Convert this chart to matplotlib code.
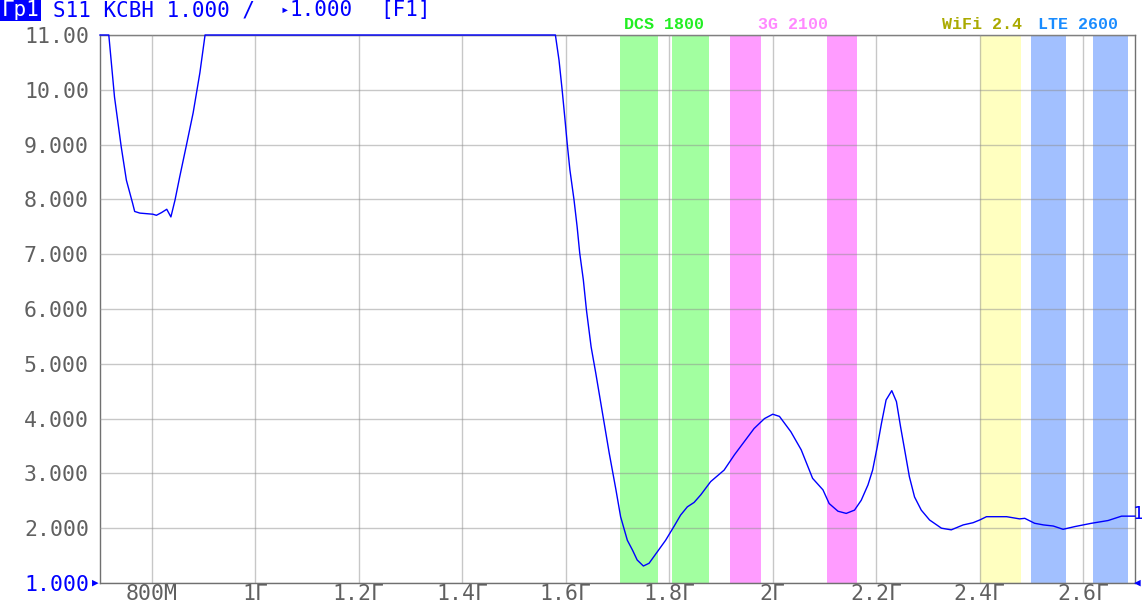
import numpy as np
import matplotlib
matplotlib.use("Agg")
import matplotlib.pyplot as plt
from matplotlib.patches import Rectangle
from matplotlib.transforms import blended_transform_factory

W, H = 1142, 606
MONO = ["DejaVu Sans Mono", "DejaVu Sans"]

# S11 VSWR trace (GHz, VSWR) -- values above 11 are shown clamped to the top edge
freq = [0.700, 0.717, 0.728, 0.741, 0.751, 0.763, 0.767, 0.777, 0.802, 0.809,
        0.819, 0.829, 0.837, 0.845, 0.854, 0.867, 0.880, 0.893, 0.903,
        1.580, 1.587, 1.593, 1.598, 1.603, 1.608, 1.616, 1.622, 1.627, 1.634,
        1.640, 1.649, 1.658, 1.671, 1.684, 1.697, 1.706, 1.719, 1.729, 1.738,
        1.750, 1.761, 1.777, 1.793, 1.809, 1.822, 1.835, 1.848, 1.861, 1.880,
        1.906, 1.926, 1.945, 1.964, 1.984, 2.000, 2.013, 2.035, 2.055, 2.077,
        2.097, 2.109, 2.126, 2.142, 2.158, 2.171, 2.184, 2.193, 2.202, 2.210,
        2.219, 2.230, 2.239, 2.247, 2.256, 2.264, 2.274, 2.287, 2.303, 2.326,
        2.345, 2.368, 2.387, 2.400, 2.413, 2.452, 2.477, 2.487, 2.506, 2.523,
        2.542, 2.561, 2.584, 2.616, 2.648, 2.674, 2.700]
vswr = [11.0, 11.0, 9.87, 8.96, 8.35, 7.93, 7.78, 7.75, 7.73, 7.71,
        7.76, 7.82, 7.68, 7.99, 8.41, 8.99, 9.58, 10.31, 11.0,
        11.0, 10.54, 10.00, 9.51, 9.00, 8.54, 7.99, 7.50, 7.02, 6.53,
        5.98, 5.31, 4.83, 4.10, 3.37, 2.70, 2.21, 1.78, 1.60, 1.42,
        1.31, 1.36, 1.57, 1.78, 2.03, 2.24, 2.39, 2.47, 2.61, 2.85,
        3.06, 3.34, 3.58, 3.82, 4.00, 4.08, 4.04, 3.76, 3.43, 2.91,
        2.70, 2.45, 2.31, 2.27, 2.33, 2.51, 2.79, 3.06, 3.49, 3.91,
        4.34, 4.51, 4.31, 3.85, 3.37, 2.94, 2.57, 2.33, 2.15, 2.00,
        1.97, 2.06, 2.10, 2.15, 2.21, 2.21, 2.17, 2.18, 2.09, 2.06,
        2.04, 1.98, 2.03, 2.09, 2.14, 2.22, 2.22]

# frequency bands (GHz), as drawn
band_lo = [1.705, 1.805, 1.917, 2.105, 2.400, 2.499, 2.618]
band_hi = [1.779, 1.876, 1.977, 2.162, 2.479, 2.566, 2.686]
band_col = ["#a2ffa0", "#a2ffa0", "#ff9cff", "#ff9cff", "#ffffc0", "#a2c0ff", "#a2c0ff"]

band_names = ["DCS 1800", "3G 2100", "WiFi 2.4", "LTE 2600"]
band_name_x = [1.789, 2.039, 2.405, 2.589]
band_name_col = ["#22ee22", "#ff88ff", "#aaaa00", "#1a8cff"]

xticks = [0.8, 1.0, 1.2, 1.4, 1.6, 1.8, 2.0, 2.2, 2.4, 2.6]
xlabels = ["800M", "1Г", "1.2Г", "1.4Г", "1.6Г", "1.8Г", "2Г", "2.2Г", "2.4Г", "2.6Г"]
yticks = [1, 2, 3, 4, 5, 6, 7, 8, 9, 10, 11]
ylabels = ["1.000", "2.000", "3.000", "4.000", "5.000", "6.000", "7.000",
           "8.000", "9.000", "10.00", "11.00"]

fig = plt.figure(figsize=(W / 100, H / 100), dpi=100)
ax = fig.add_axes([100 / W, 23 / H, 1035 / W, 548 / H])

for lo, hi, c in zip(band_lo, band_hi, band_col):
    ax.axvspan(lo, hi, color=c, lw=0, zorder=0)

ax.set_xlim(0.7, 2.7)
ax.set_ylim(1, 11)
ax.set_xticks(xticks)
ax.set_xticklabels(xlabels)
ax.set_yticks(yticks)
ax.set_yticklabels(ylabels)
ax.grid(True, color="#909090", alpha=0.5, lw=1, zorder=1)
ax.set_axisbelow(False)
ax.tick_params(length=0, labelsize=15.5, labelcolor="#606060")
ax.tick_params(axis="y", pad=8)
ax.tick_params(axis="x", pad=1)
for lab in ax.get_xticklabels() + ax.get_yticklabels():
    lab.set_family(MONO)
ax.get_yticklabels()[0].set_color("#0000ff")
for s in ax.spines.values():
    s.set_color("#707070")
    s.set_linewidth(1)
    s.set_zorder(2)

ax.plot(freq, vswr, color="#0000ff", lw=1.0, zorder=3, clip_on=False)

# band captions above the plot
tr = blended_transform_factory(ax.transData, ax.transAxes)
for name, x, c in zip(band_names, band_name_x, band_name_col):
    ax.text(x, 1.020, name, transform=tr, ha="center", va="center", fontsize=12,
            family=["Liberation Mono", "DejaVu Sans Mono"], weight="bold", color=c)

# header
fig.add_artist(Rectangle((0, 1 - 21 / H), 41 / W, 21 / H, transform=fig.transFigure,
                         color="#0000ff", lw=0))
fig.text(2 / W, 1 - 10 / H, "Гр1", color="white", fontsize=15, family=MONO, va="center")
fig.text(53 / W, 1 - 10 / H, "S11 КСВН 1.000 /", color="#0000ff", fontsize=15,
         family=MONO, va="center")
fig.text(281 / W, 1 - 10 / H, "▸", color="#0000ff", fontsize=10, family=MONO, va="center")
fig.text(289 / W, 1 - 10 / H, "1.000", color="#0000ff", fontsize=15, family=MONO, va="center")
fig.text(380 / W, 1 - 10 / H, "[F1]", color="#0000ff", fontsize=15, family=MONO, va="center")

# markers
fig.text(92 / W, 1 - 583 / H, "▶", color="#0000ff", fontsize=8, family=MONO,
         va="center", ha="left")
fig.text(1134 / W, 1 - 583 / H, "◀", color="#0000ff", fontsize=8, family=MONO,
         va="center", ha="left")
fig.text(1133 / W, 1 - 514 / H, "1", color="#0000ff", fontsize=13, family=MONO,
         va="center", ha="left")

fig.savefig("out.png", dpi=100, facecolor="white")
